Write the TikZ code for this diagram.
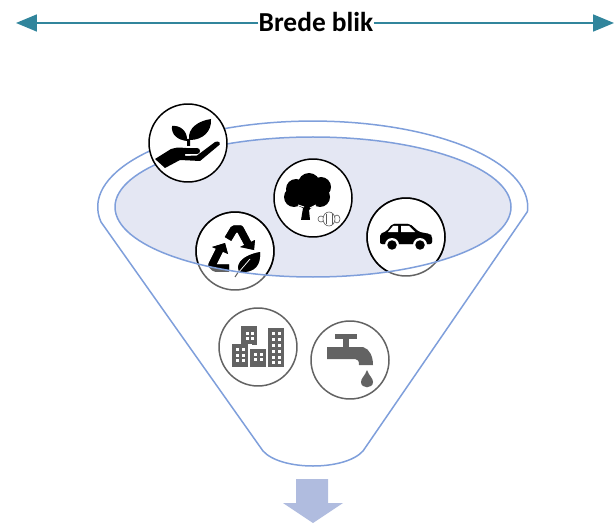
\documentclass[tikz,border=0pt]{standalone}
\usepackage{fontspec}
\setmainfont{Carlito}
\definecolor{funnelblue}{HTML}{7F9FDB}
\definecolor{funnelfill}{HTML}{E4E7F3}
\definecolor{teal}{HTML}{31859C}
\definecolor{downblue}{HTML}{B0BCDF}
\definecolor{icongray}{HTML}{636363}
\usetikzlibrary{arrows.meta}
\tikzset{
  iconcircle/.style={draw=#1,circle,fill=white,line width=0.03cm,minimum size=1.56cm,inner sep=0pt},
  funnelline/.style={draw=funnelblue,line width=0.03cm},
  widearrow/.style={draw=teal,line width=0.035cm,-{Triangle[length=0.42cm,width=0.34cm]}}
}
\newcommand{\handicon}{%
  \fill (-1,3) -- (-1,-2) .. controls (-10,-3) and (-17,-8) .. (-16,-17) .. controls (-8,-18) and (-1,-12) .. (-1,-4)
    -- (1,-4) .. controls (0,-15) and (10,-22) .. (23,-24) .. controls (24,-12) and (15,-3) .. (2,-3) -- (2,3) -- cycle;
  \fill (-33,16) -- (-17,6) .. controls (-10,3) and (-2,6) .. (9,5) .. controls (13,5) and (13,11) .. (9,11) -- (-3,11) -- (-3,13) -- (9,12.5) -- (27,-1) .. controls (31,-3) and (34,1) .. (30,3)
    -- (12,18) -- (-8,17) -- (-23,25) -- cycle;
}
\newcommand{\recycleicon}{%
  \draw[line width=0.15cm,line join=round] (-7,-12) -- (-1,-22) -- (5,-22) -- (13,-7);
  \fill (5,-4) -- (20,-11) -- (19,-1) -- cycle;
  \draw[line width=0.15cm,line join=round] (-15,-2) -- (-23,14) -- (-20,17) -- (-6,17);
  \fill (-23,-4) -- (-10,-8) -- (-7,3) -- cycle;
  \draw[line width=0.02cm] (0,26) -- (4,20);
  \fill (25,1) .. controls (26,14) and (20,22) .. (5,21) .. controls (0,16) and (4,5) .. (25,1) -- cycle;
  \draw[white,line width=0.015cm] (3,22) -- (15,8);
}
\newcommand{\caricon}{%
  \fill[rounded corners=0.04cm] (-26,7) -- (-26,-3) -- (-19,-6) -- (-14,-13) -- (4,-13) -- (13,-5) -- (24,-3) -- (26,-1) -- (26,7) -- cycle;
  \fill[white] (-18,-5) -- (-13,-11) -- (-8,-11) -- (-8,-5) -- cycle;
  \fill[white] (-5,-11) -- (3,-11) -- (9,-5) -- (-5,-5) -- cycle;
  \foreach \wx in {-14,14} {
    \fill[white] (\wx,8) circle [radius=0.14cm];
    \fill (\wx,8) circle [radius=0.095cm];
  }
}
\begin{document}
\begin{tikzpicture}[x=0.02cm,y=-0.02cm]
  \useasboundingbox (0,0) rectangle (614,523);
  % top arrow
  \node[font=\bfseries\fontsize{15.6}{17}\selectfont,inner sep=0pt] (brede) at (316,22) {Brede blik};
  \coordinate (wideleft) at (16,23);
  \coordinate (wideright) at (614,23);
  \draw[widearrow] (brede.west |- wideleft) -- (wideleft);
  \draw[widearrow] (brede.east |- wideright) -- (wideright);
  % funnel
  \draw[funnelline] (263,451) -- (101,222) arc [start angle=170,end angle=363,x radius=215,y radius=86]
    -- (363,451) .. controls (345,471) and (281,471) .. (263,451) -- cycle;
  \fill[funnelfill] (313,207) ellipse [x radius=198,y radius=70];
  % circles under the rim
  \node[iconcircle=icongray] (recycle) at (235,251) {};
  \node[iconcircle=icongray] (car) at (406,237) {};
  \begin{scope}[shift={(235,251)},icongray] \recycleicon \end{scope}
  \begin{scope}[shift={(406,237)},icongray] \caricon \end{scope}
  \begin{scope}
    \clip (313,207) ellipse [x radius=198,y radius=70];
    \node[iconcircle=black,fill=none] at (235,251) {};
    \node[iconcircle=black,fill=none] at (406,237) {};
    \begin{scope}[shift={(235,251)}] \recycleicon \end{scope}
    \begin{scope}[shift={(406,237)}] \caricon \end{scope}
  \end{scope}
  \draw[funnelline] (313,207) ellipse [x radius=198,y radius=70];
  % plant
  \node[iconcircle=black] (plant) at (188,143) {};
  \begin{scope}[shift={(plant)}] \handicon \end{scope}
  % tree
  \node[iconcircle=black] (tree) at (313,198) {};
  \begin{scope}[shift={(tree)}]
    \foreach \cx/\cy/\cr in {-4/-14/11,-17/-9/10,8/-11/10,-19/-1/10,7/-1/10,-6/-3/12} {
      \fill (\cx,\cy) circle [radius=\cr];
    }
    \fill (-12,22) -- (-10,10) -- (-19,6) -- (3,6) -- (-4,12) -- (-3,22) -- cycle;
    \draw[white,line width=0.02cm] (-15,7) -- (-9,9) (3,7) -- (-3,10);
    \draw[black!65,line width=0.012cm,fill=white] (8,21) ellipse [x radius=3,y radius=3];
    \draw[black!65,line width=0.012cm,fill=white] (24,21) ellipse [x radius=3,y radius=4];
    \draw[black!65,line width=0.012cm,fill=white] (16,21) ellipse [x radius=6,y radius=7];
    \draw[black!65,line width=0.012cm] (13,16) -- (13,26) (19,16) -- (19,26);
  \end{scope}
  % city
  \node[iconcircle=icongray] (city) at (258,347) {};
  \begin{scope}[shift={(city)}]
    \fill[icongray] (-17,-21) rectangle (-1,-2);
    \fill[icongray] (-26,-3) rectangle (-10,20);
    \fill[icongray] (-8,2) rectangle (8,20);
    \fill[icongray] (10,-19) rectangle (26,20);
    \fill[white] (-10,-3) rectangle (-8,20);
    \fill[white] (-10,-3) rectangle (-6,2);
    \foreach \wx in {-12,-7} \foreach \wy in {-15,-10} \fill[white] (\wx,\wy) rectangle +(3,3);
    \foreach \wx in {-22,-16} \foreach \wy in {1,7,12} \fill[white] (\wx,\wy) rectangle +(3,3);
    \foreach \wx in {-4,2} \foreach \wy in {6,11} \fill[white] (\wx,\wy) rectangle +(3,3);
    \foreach \wx in {14,20} \foreach \wy in {-15,-9,-3,3,9,14} \fill[white] (\wx,\wy) rectangle +(3,3);
  \end{scope}
  % tap
  \node[iconcircle=icongray] (tap) at (350,360) {};
  \begin{scope}[shift={(tap)}]
    \fill[icongray] (-15,-26) rectangle (7,-21);
    \fill[icongray] (-7,-26) rectangle (-1,-13);
    \fill[icongray] (-23,-13) -- (13,-13) .. controls (20,-11) and (23,-3) .. (23,5) -- (9,5) .. controls (9,1) and (8,-1) .. (5,-1) -- (-23,-1) -- cycle;
    \fill[icongray] (17,10) .. controls (19,16) and (23,18) .. (23,22) .. controls (23,29) and (11,29) .. (11,22) .. controls (11,18) and (15,16) .. (17,10) -- cycle;
  \end{scope}
  % arrow out of the funnel
  \fill[downblue] (296,479) -- (328,479) -- (328,503) -- (343,503) -- (313,523) -- (283,503) -- (296,503) -- cycle;
\end{tikzpicture}
\end{document}
